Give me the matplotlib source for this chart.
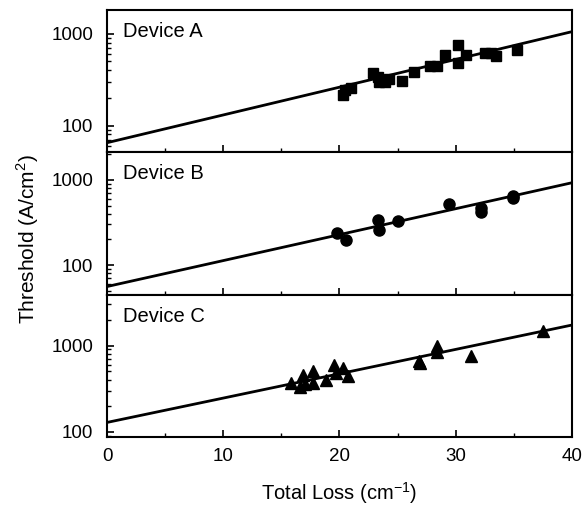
import matplotlib
matplotlib.use("Agg")
import matplotlib.pyplot as plt
from matplotlib.ticker import LogLocator, FixedLocator, FixedFormatter, NullFormatter, MultipleLocator

# ---- data ----
loss_A = [20.3, 20.5, 21.0, 22.9, 23.3, 23.4, 23.6, 23.9, 24.3, 25.4, 26.4,
          27.8, 28.4, 29.1, 30.2, 30.2, 30.9, 32.5, 33.0, 33.5, 35.3]
thr_A = [215, 245, 255, 370, 340, 295, 315, 300, 320, 305, 385,
         440, 440, 580, 760, 480, 580, 610, 610, 570, 660]

loss_B = [19.8, 20.6, 23.3, 23.4, 25.0, 29.4, 32.2, 32.2, 34.9, 34.9]
thr_B = [235, 198, 340, 255, 325, 525, 470, 420, 640, 620]

loss_C = [15.8, 16.6, 16.9, 17.0, 17.7, 17.7, 18.8, 19.5, 19.7, 20.3, 20.7,
          26.8, 26.9, 28.4, 28.4, 31.3, 37.5]
thr_C = [370, 330, 460, 360, 510, 370, 400, 600, 480, 550, 440,
         660, 620, 1000, 850, 750, 1460]

fit_x = [0, 40]
fit_A = [65, 1050]
fit_B = [56, 925]
fit_C = [128, 1730]

labels = ["Device A", "Device B", "Device C"]
ylims = [(51, 1800), (45, 2100), (87, 3900)]
yticks = [100, 1000]
xticks = [0, 10, 20, 30, 40]

plt.rcParams['font.family'] = ['Liberation Sans', 'DejaVu Sans']
plt.rcParams['mathtext.fontset'] = 'custom'
plt.rcParams['mathtext.rm'] = 'Liberation Sans'
fig = plt.figure(figsize=(5.86, 5.08), dpi=100)

left, right, top, bottom = 0.1826, 0.976, 0.980, 0.140
h = (top - bottom) / 3
axes = []
series = [(loss_A, thr_A, fit_A, 's', 7.5),
          (loss_B, thr_B, fit_B, 'o', 8),
          (loss_C, thr_C, fit_C, '^', 8.5)]
for i, (lx, ty, fy, mk, ms) in enumerate(series):
    ax = fig.add_axes([left, top - (i + 1) * h, right - left, h])
    ax.set_yscale('log')
    ax.plot(fit_x, fy, color='black', lw=2.0, zorder=2)
    ax.plot(lx, ty, linestyle='none', marker=mk, ms=ms, color='black', zorder=3)
    ax.set_xlim(0, 40)
    ax.set_ylim(*ylims[i])
    ax.yaxis.set_major_locator(FixedLocator(yticks))
    ax.yaxis.set_major_formatter(FixedFormatter([str(v) for v in yticks]))
    ax.yaxis.set_minor_locator(LogLocator(base=10, subs=range(2, 10)))
    ax.yaxis.set_minor_formatter(NullFormatter())
    ax.xaxis.set_major_locator(FixedLocator(xticks))
    ax.xaxis.set_minor_locator(MultipleLocator(5))
    ax.tick_params(axis='both', which='major', direction='in', length=5, width=1.2,
                   labelsize=13.5, top=False, right=False)
    ax.tick_params(axis='both', which='minor', direction='in', length=3, width=1.0,
                   top=False, right=False)
    ax.tick_params(axis='y', which='major', pad=10)
    ax.tick_params(axis='x', which='major', pad=8)
    for sp in ax.spines.values():
        sp.set_linewidth(1.5)
    ax.text(0.034, 0.915, labels[i], transform=ax.transAxes, fontsize=14.5,
            va='top', ha='left')
    if i < 2:
        ax.tick_params(axis='x', labelbottom=False)
    axes.append(ax)

axes[2].set_xlabel("Total Loss (cm$^{\\mathrm{-1}}$)", fontsize=14.5, labelpad=11)
fig.text(0.048, 1 - 239 / 508, "Threshold (A/cm$^{\\mathrm{2}}$)", rotation=90,
         ha='center', va='center', fontsize=15)

fig.savefig("out.png", dpi=100)
